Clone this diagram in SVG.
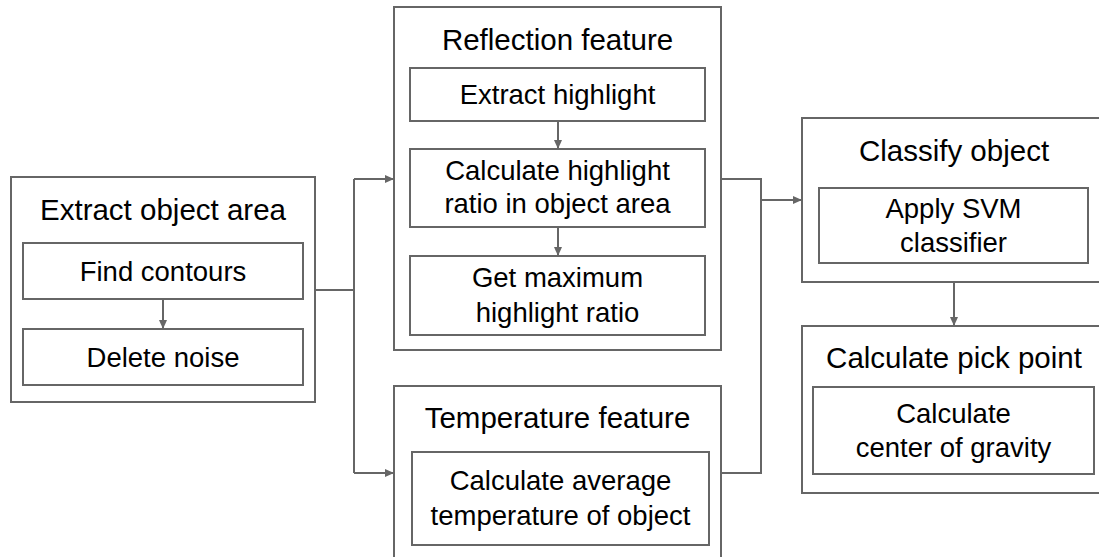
<svg xmlns="http://www.w3.org/2000/svg" width="1099" height="557" viewBox="0 0 1099 557">
<style>
  .box{fill:#fff;stroke:#666;stroke-width:2}
  .t{font-family:"Liberation Sans",Arial,sans-serif;fill:#000;text-anchor:middle}
  .title{font-size:29.5px}
  .in{font-size:27.5px}
  .c{fill:none;stroke:#666;stroke-width:2}
</style>
<defs>
  <marker id="ah" markerUnits="userSpaceOnUse" markerWidth="10" markerHeight="8" refX="9" refY="4" orient="auto">
    <path d="M0,0 L9,4 L0,8 Z" fill="#666"/>
  </marker>
</defs>
<rect width="1099" height="557" fill="#fff"/>
<g id="extract-object-area">
  <rect class="box" x="11" y="177" width="304" height="225"/>
  <text class="t title" x="163" y="220">Extract object area</text>
</g>
<g id="find-contours">
  <rect class="box" x="23" y="243" width="280" height="56"/>
  <text class="t in" x="163" y="281">Find contours</text>
</g>
<g id="delete-noise">
  <rect class="box" x="23" y="329" width="280" height="56"/>
  <text class="t in" x="163" y="367">Delete noise</text>
</g>
<g id="reflection-feature">
  <rect class="box" x="394" y="7" width="327" height="343"/>
  <text class="t title" x="557.5" y="50">Reflection feature</text>
</g>
<g id="extract-highlight">
  <rect class="box" x="410" y="68" width="295" height="53"/>
  <text class="t in" x="557.5" y="104">Extract highlight</text>
</g>
<g id="calc-highlight-ratio">
  <rect class="box" x="410" y="149" width="295" height="78"/>
  <text class="t in" x="557.5" y="180">Calculate highlight</text>
  <text class="t in" x="557.5" y="213">ratio in object area</text>
</g>
<g id="get-max-highlight">
  <rect class="box" x="410" y="256" width="295" height="79"/>
  <text class="t in" x="557.5" y="287">Get maximum</text>
  <text class="t in" x="557.5" y="322">highlight ratio</text>
</g>
<g id="temperature-feature">
  <rect class="box" x="394" y="386" width="327" height="190"/>
  <text class="t title" x="557.5" y="428">Temperature feature</text>
</g>
<g id="calc-average-temperature">
  <rect class="box" x="412" y="452" width="297" height="93"/>
  <text class="t in" x="560.5" y="490">Calculate average</text>
  <text class="t in" x="560.5" y="525">temperature of object</text>
</g>
<g id="classify-object">
  <rect class="box" x="802" y="118" width="304" height="164"/>
  <text class="t title" x="954" y="161">Classify object</text>
</g>
<g id="apply-svm">
  <rect class="box" x="819" y="188" width="269" height="75"/>
  <text class="t in" x="953.5" y="218">Apply SVM</text>
  <text class="t in" x="953.5" y="252">classifier</text>
</g>
<g id="calculate-pick-point">
  <rect class="box" x="802" y="326" width="304" height="167"/>
  <text class="t title" x="954" y="368">Calculate pick point</text>
</g>
<g id="center-of-gravity">
  <rect class="box" x="813" y="387" width="281" height="87"/>
  <text class="t in" x="953.5" y="423">Calculate</text>
  <text class="t in" x="953.5" y="457">center of gravity</text>
</g>
<g id="connectors">
  <path class="c" d="M163,299 V329" marker-end="url(#ah)"/>
  <path class="c" d="M558,121 V149" marker-end="url(#ah)"/>
  <path class="c" d="M558,227 V256" marker-end="url(#ah)"/>
  <path class="c" d="M315,290 H354"/>
  <path class="c" d="M354,179 V473"/>
  <path class="c" d="M354,179 H394" marker-end="url(#ah)"/>
  <path class="c" d="M354,473 H394" marker-end="url(#ah)"/>
  <path class="c" d="M721,179 H761 V473 H721"/>
  <path class="c" d="M761,200 H802" marker-end="url(#ah)"/>
  <path class="c" d="M954,282 V326" marker-end="url(#ah)"/>
</g>
</svg>
